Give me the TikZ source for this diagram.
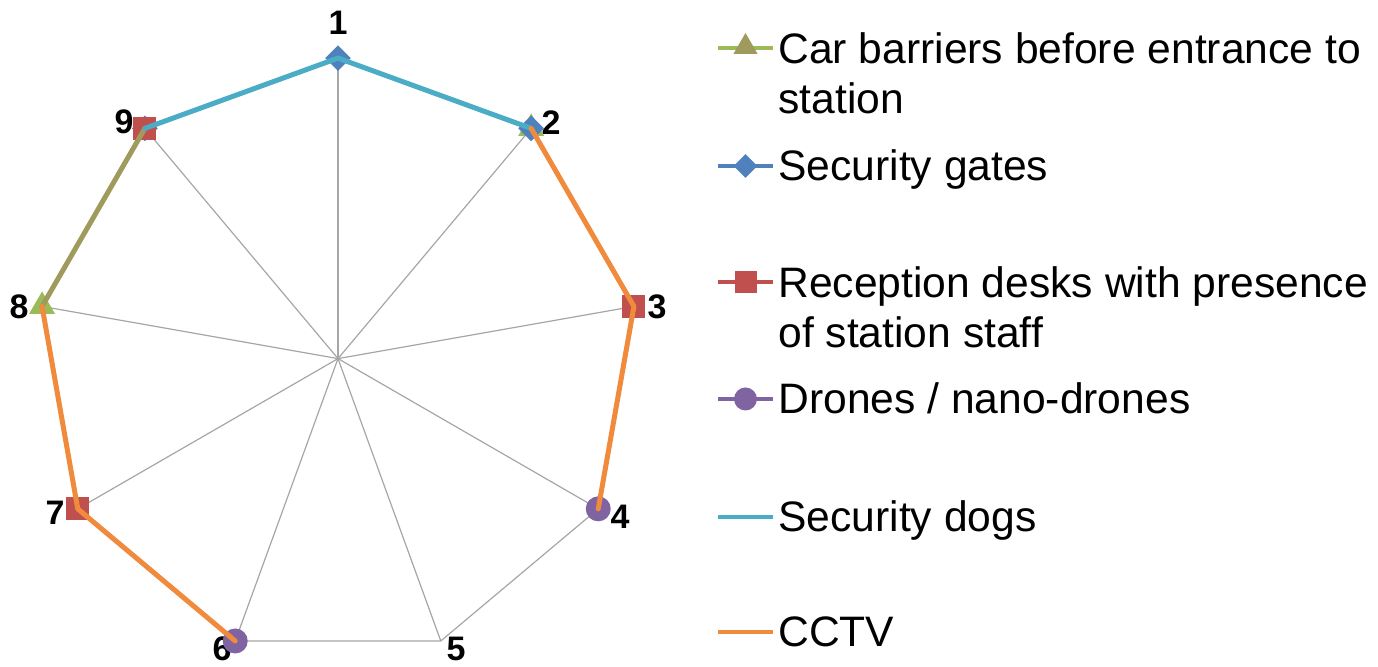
\documentclass[tikz,border=0pt]{standalone}
\usepackage{fontspec}
\setmainfont{Liberation Sans}
\usetikzlibrary{shapes.geometric,calc}
\definecolor{gridgray}{HTML}{A6A6A6}
\definecolor{cbgreen}{HTML}{9BBB59}
\definecolor{cbolive}{HTML}{A09A5C}
\definecolor{sgblue}{HTML}{4F81BD}
\definecolor{rdred}{HTML}{C0504D}
\definecolor{drpurple}{HTML}{8064A2}
\definecolor{sdteal}{HTML}{4BACC6}
\definecolor{ccorange}{HTML}{F08A3C}
\tikzset{
  gridline/.style={draw=gridgray, line width=0.6pt},
  serline/.style={line width=2.5pt, line join=round, line cap=round},
  legline/.style={line width=2.2pt},
  axlabel/.style={font=\fontsize{17}{20}\selectfont\bfseries, inner sep=0pt},
  legtext/.style={font=\fontsize{21.3}{25.2}\selectfont, inner sep=0pt, align=left},
  trimark/.style={regular polygon, regular polygon sides=3, fill=cbgreen, draw=none, minimum size=15pt, inner sep=0pt},
  diamark/.style={diamond, fill=sgblue, draw=none, minimum width=13pt, minimum height=13pt, inner sep=0pt},
  sqmark/.style={rectangle, fill=rdred, draw=none, minimum width=11.5pt, minimum height=11.5pt, inner sep=0pt},
  cirmark/.style={circle, fill=drpurple, draw=none, minimum size=12.5pt, inner sep=0pt}
}
\begin{document}
\begin{tikzpicture}[x=0.5pt,y=-0.5pt]
\useasboundingbox (0,0) rectangle (1378,667);
\coordinate (c) at (338,358.6);
\foreach \i in {1,...,9}{
  \coordinate (p\i) at ($(c)+({300.5*cos(90-40*(\i-1))},{-300.5*sin(90-40*(\i-1))})$);
}
% grid
\draw[gridline] (p1) -- (p2) -- (p3) -- (p4) -- (p5) -- (p6) -- (p7) -- (p8) -- (p9) -- cycle;
\foreach \i in {1,...,9}{ \draw[gridline] (c) -- (p\i); }
% axis labels
\node[axlabel] (lab1) at (338,23) {1};
\node[axlabel] (lab2) at (551,123) {2};
\node[axlabel] (lab3) at (657,307) {3};
\node[axlabel] (lab4) at (620,517) {4};
\node[axlabel] (lab5) at (456,649) {5};
\node[axlabel] (lab6) at (222,649) {6};
\node[axlabel] (lab7) at (55,513) {7};
\node[axlabel] (lab8) at (19,307) {8};
\node[axlabel] (lab9) at (124,122) {9};
% markers
\node[trimark] (m2t) at (p2) {};
\node[trimark] (m8t) at (p8) {};
\node[diamark] (m1d) at (p1) {};
\node[diamark] (m2d) at (p2) {};
\node[diamark] (m9d) at (p9) {};
\node[sqmark] (m9s) at (p9) {};
\node[sqmark] (m3s) at (p3) {};
\node[sqmark] (m7s) at (p7) {};
\node[cirmark] (m4c) at (p4) {};
\node[cirmark] (m6c) at (p6) {};
% series lines
\draw[serline, cbolive] (p8) -- (p9);
\draw[serline, sdteal] (p9) -- (p1) -- (p2);
\draw[serline, ccorange] (p2) -- (p3) -- (p4);
\draw[serline, ccorange] (p8) -- (p7) -- (p6);
% legend
\coordinate (la1) at (718,48);  \coordinate (lb1) at (773,48);
\coordinate (la2) at (718,166); \coordinate (lb2) at (773,166);
\coordinate (la3) at (718,282); \coordinate (lb3) at (773,282);
\coordinate (la4) at (718,399); \coordinate (lb4) at (773,399);
\coordinate (la5) at (718,517); \coordinate (lb5) at (773,517);
\coordinate (la6) at (718,632); \coordinate (lb6) at (773,632);
\draw[legline, cbgreen] (la1) -- (lb1);
\node[trimark, fill=cbolive, minimum size=14pt] (lm1) at ($(la1)!0.5!(lb1)+(0,-1)$) {};
\draw[legline, sgblue] (la2) -- (lb2);
\node[diamark, minimum width=12pt, minimum height=12pt] (lm2) at ($(la2)!0.5!(lb2)$) {};
\draw[legline, rdred] (la3) -- (lb3);
\node[sqmark, minimum width=11pt, minimum height=11pt] (lm3) at ($(la3)!0.5!(lb3)$) {};
\draw[legline, drpurple] (la4) -- (lb4);
\node[cirmark, minimum size=11.5pt] (lm4) at ($(la4)!0.5!(lb4)$) {};
\draw[legline, sdteal] (la5) -- (lb5);
\draw[legline, ccorange] (la6) -- (lb6);
\node[legtext, anchor=north west] (t1) at (778,32) {Car barriers before entrance to\\station};
\node[legtext, anchor=base west] (t2) at (778,181) {Security gates};
\node[legtext, anchor=north west] (t3) at (778,266) {Reception desks with presence\\of station staff};
\node[legtext, anchor=base west] (t4) at (778,414) {Drones / nano-drones};
\node[legtext, anchor=base west] (t5) at (778,532) {Security dogs};
\node[legtext, anchor=base west] (t6) at (778,647) {CCTV};
\end{tikzpicture}
\end{document}
